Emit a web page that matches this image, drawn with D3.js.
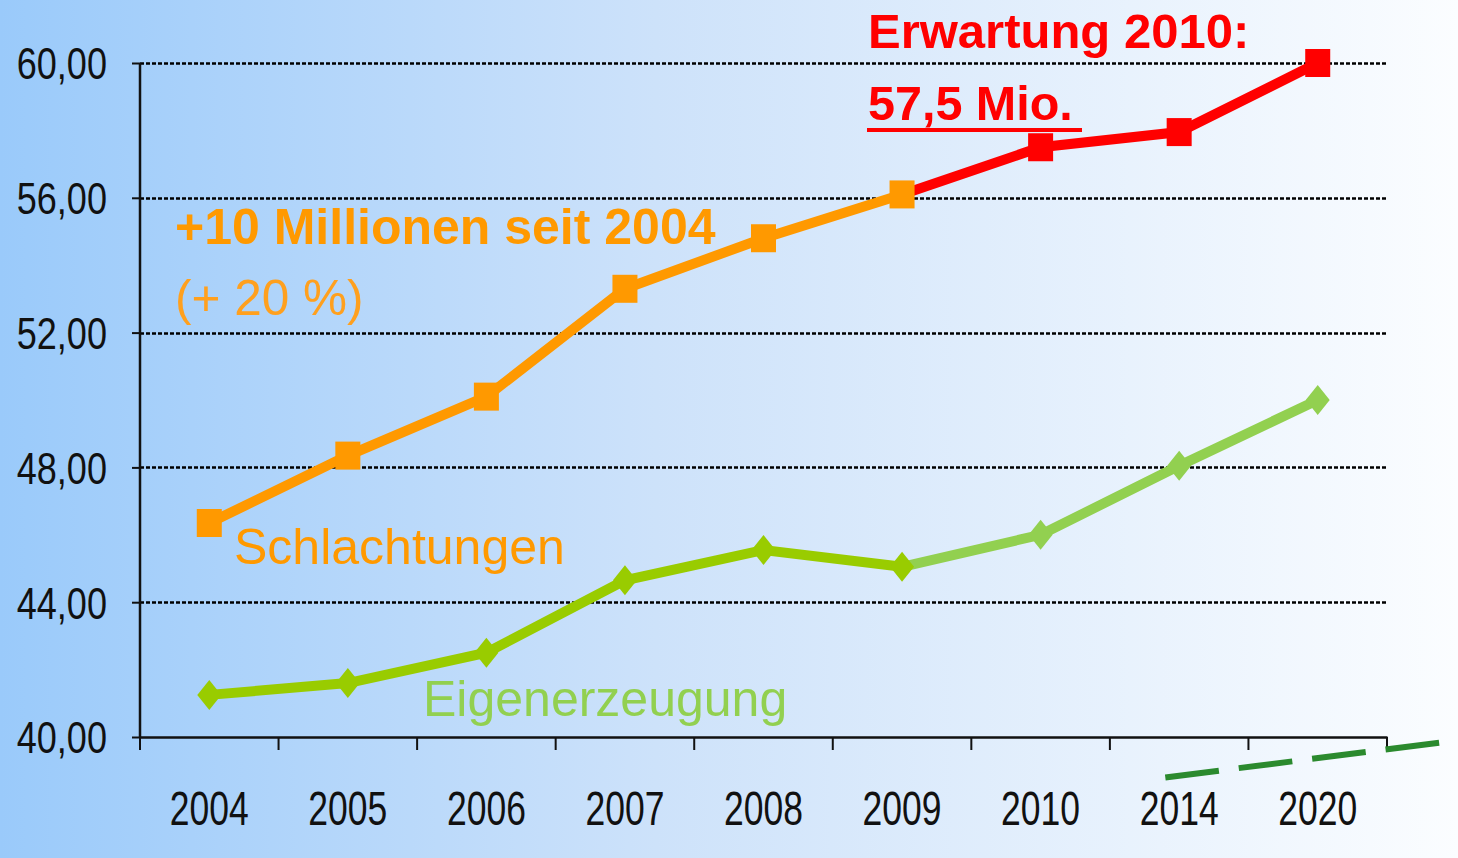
<!DOCTYPE html>
<meta charset="utf-8">
<style>
body { margin: 0; }
svg { display: block; }
.tick text { font-family: "Liberation Sans", Arial, sans-serif; fill: #111; }
.lab { font-family: "Liberation Sans", Arial, sans-serif; }
</style>
<body>
<script src="https://d3js.org/d3.v7.min.js"></script>
<script>

// data
var years = ["2004", "2005", "2006", "2007", "2008", "2009", "2010", "2014", "2020"];
var schlachtungen = [46.35, 48.35, 50.1, 53.3, 54.8, 56.1, 57.5, 57.95, 60.0];
var eigenerzeugung = [41.25, 41.6, 42.5, 44.65, 45.55, 45.05, 46.0, 48.05, 50.0];
var yTicks = [40, 44, 48, 52, 56, 60];
var splitAt = 5; // 2009: from here on the forecast colours

var W = 1458, H = 858;
var margin = {top: 63, right: 71, bottom: 121, left: 140};

var svg = d3.select("body").append("svg")
    .attr("width", W)
    .attr("height", H);

// background
var grad = svg.append("defs").append("linearGradient")
    .attr("id", "bg").attr("x1", "0").attr("x2", "1").attr("y1", "0").attr("y2", "0");
grad.append("stop").attr("offset", "0%").attr("stop-color", "#9ACAFA");
grad.append("stop").attr("offset", "45%").attr("stop-color", "#CDE2FA");
grad.append("stop").attr("offset", "100%").attr("stop-color", "#FBFDFF");
svg.append("rect").attr("width", W).attr("height", H).attr("fill", "url(#bg)");

var x = d3.scaleBand()
    .domain(years)
    .range([margin.left, W - margin.right]);
var y = d3.scaleLinear()
    .domain([40, 60])
    .range([H - margin.bottom, margin.top]);

// dashed grid
svg.append("g")
  .selectAll("line")
  .data(yTicks.slice(1))
  .enter().append("line")
    .attr("x1", margin.left).attr("x2", W - margin.right)
    .attr("y1", d => Math.round(y(d)) + 0.5).attr("y2", d => Math.round(y(d)) + 0.5)
    .attr("stroke", "#000").attr("stroke-width", 2.5)
    .attr("stroke-dasharray", "4,2");

// y axis
var yAxis = svg.append("g")
    .attr("transform", "translate(" + margin.left + ",0)")
    .call(d3.axisLeft(y).tickValues(yTicks).tickSize(8)
      .tickFormat(d => d.toFixed(2).replace(".", ",")));
yAxis.select(".domain").attr("stroke", "#111").attr("stroke-width", 2.5).attr("d", "M0," + y(40) + "V" + y(60));
yAxis.selectAll(".tick line").attr("stroke", "#111").attr("stroke-width", 2);
yAxis.selectAll(".tick text")
    .attr("font-size", 44)
    .attr("x", 0)
    .attr("dy", "0.36em")
    .attr("transform", "translate(-33,0) scale(0.82,1)");

// x axis: labels at band centres, ticks at band edges
var xAxis = svg.append("g")
    .attr("transform", "translate(0," + y(40) + ")")
    .call(d3.axisBottom(x).tickSize(0));
xAxis.select(".domain").attr("stroke", "#111").attr("stroke-width", 2.5);
xAxis.selectAll(".tick text")
    .attr("font-size", 48)
    .attr("y", 0)
    .attr("dy", 0)
    .attr("transform", "translate(0,88) scale(0.74,1)");
xAxis.selectAll(".edge")
  .data(years.map(d => x(d)).concat([x.range()[1]]))
  .enter().append("line")
    .attr("class", "edge")
    .attr("x1", d => d).attr("x2", d => d)
    .attr("y1", 0).attr("y2", 13)
    .attr("stroke", "#111").attr("stroke-width", 2);

// decorative dashed green line bottom right
svg.append("line")
    .attr("x1", x("2014") + 0.4 * x.bandwidth()).attr("y1", y(38.8))
    .attr("x2", W).attr("y2", y(39.9))
    .attr("stroke", "#2B8A2E").attr("stroke-width", 6)
    .attr("stroke-dasharray", "54,20");

var line = d3.line()
    .x(d => x(d.year) + x.bandwidth() / 2)
    .y(d => y(d.v));

function pts(vals) {
  return vals.map((v, i) => ({year: years[i], v: v}));
}

function series(vals, colA, colB, shape) {
  var p = pts(vals);
  var g = svg.append("g");
  g.append("path").datum(p.slice(splitAt))
    .attr("d", line).attr("fill", "none").attr("stroke", colB).attr("stroke-width", 10);
  g.append("path").datum(p.slice(0, splitAt + 1))
    .attr("d", line).attr("fill", "none").attr("stroke", colA).attr("stroke-width", 10);
  var m = g.selectAll(".m").data(p).enter();
  if (shape === "square") {
    m.append("rect")
      .attr("x", d => x(d.year) + x.bandwidth() / 2 - 12.5)
      .attr("y", d => y(d.v) - 14)
      .attr("width", 25).attr("height", 28)
      .attr("fill", (d, i) => i <= splitAt ? colA : colB);
  } else {
    m.append("path")
      .attr("d", d => {
        var cx = x(d.year) + x.bandwidth() / 2, cy = y(d.v);
        return "M" + cx + "," + (cy - 15) + "L" + (cx + 12) + "," + cy +
               "L" + cx + "," + (cy + 15) + "L" + (cx - 12) + "," + cy + "Z";
      })
      .attr("fill", (d, i) => i <= splitAt ? colA : colB);
  }
}

series(eigenerzeugung, "#99CC00", "#92D050", "diamond");
series(schlachtungen, "#FF9900", "#FF0000", "square");

// annotations
svg.append("text").attr("class", "lab")
    .attr("x", 868).attr("y", 48)
    .attr("font-size", 49).attr("font-weight", "bold").attr("fill", "#FF0000")
    .text("Erwartung 2010:");
svg.append("text").attr("class", "lab")
    .attr("x", 868).attr("y", 120)
    .attr("font-size", 48.5).attr("font-weight", "bold").attr("fill", "#FF0000")
    .text("57,5 Mio.");
svg.append("line")
    .attr("x1", 867).attr("x2", 1082).attr("y1", 130).attr("y2", 130)
    .attr("stroke", "#FF0000").attr("stroke-width", 4);

svg.append("text").attr("class", "lab")
    .attr("x", 175).attr("y", 244)
    .attr("font-size", 50).attr("font-weight", "bold").attr("fill", "#FF9900")
    .text("+10 Millionen seit 2004");
svg.append("text").attr("class", "lab")
    .attr("x", 175).attr("y", 315)
    .attr("font-size", 49.5).attr("fill", "#FFA01E")
    .text("(+ 20 %)");
svg.append("text").attr("class", "lab")
    .attr("x", 234).attr("y", 564)
    .attr("font-size", 50).attr("fill", "#FF9900")
    .text("Schlachtungen");
svg.append("text").attr("class", "lab")
    .attr("x", 423).attr("y", 716)
    .attr("font-size", 50).attr("fill", "#92D050")
    .text("Eigenerzeugung");

</script>
</body>
